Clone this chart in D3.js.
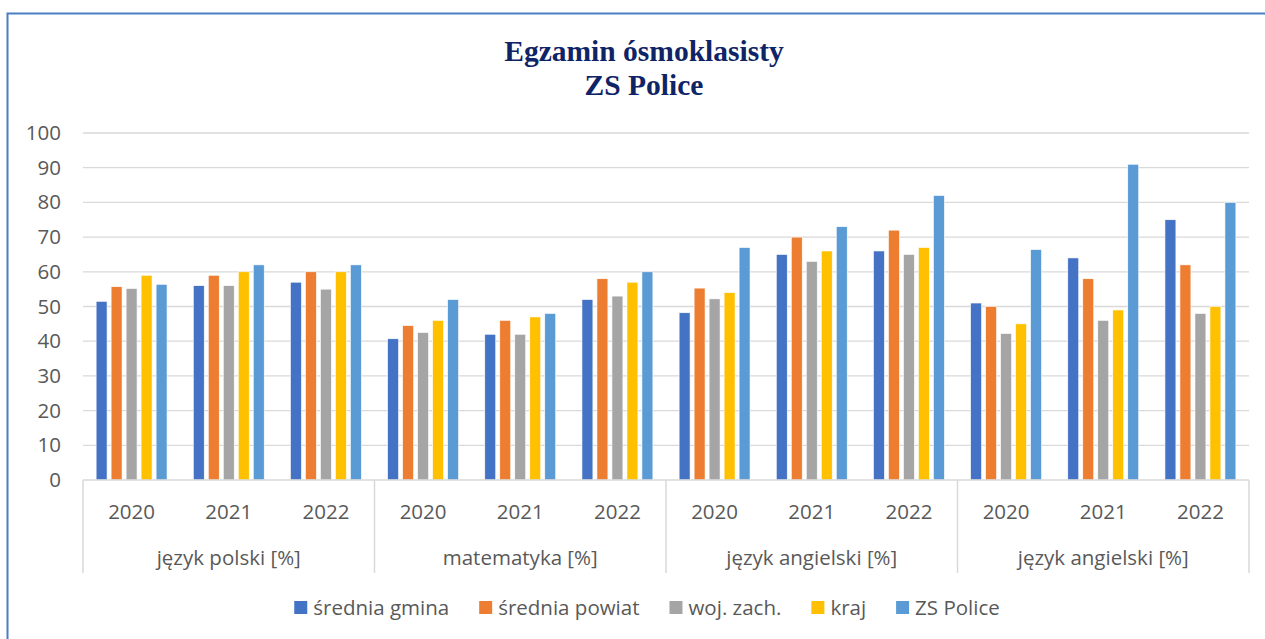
<!DOCTYPE html>
<html>
<head>
<meta charset="utf-8">
<script src="https://cdn.jsdelivr.net/npm/d3@7"></script>
<style>
  body { margin: 0; background: #fff; }
  svg { display: block; }
</style>
</head>
<body>
<div id="chart"></div>
<script>
// data
var years = ["2020", "2021", "2022"];
var subjects = ["język polski [%]", "matematyka [%]", "język angielski [%]", "język angielski [%]"];
var seriesNames = ["średnia gmina", "średnia powiat", "woj. zach.", "kraj", "ZS Police"];
var gmina  = [51.5, 56, 57, 40.7, 42, 52, 48.2, 65, 66, 51, 64, 75];
var powiat = [55.7, 59, 60, 44.5, 46, 58, 55.3, 70, 72, 50, 58, 62];
var woj    = [55.2, 56, 55, 42.5, 42, 53, 52.2, 63, 65, 42.2, 46, 48];
var kraj   = [59, 60, 60, 46, 47, 57, 54, 66, 67, 45, 49, 50];
var zsPolice = [56.4, 62, 62, 52, 48, 60, 67, 73, 82, 66.4, 91, 80];
var yTicks = [0, 10, 20, 30, 40, 50, 60, 70, 80, 90, 100];
var colors = ["#4472c4", "#ed7d31", "#a5a5a5", "#ffc000", "#5b9bd5"];

var svgWidth = 1265;
var svgHeight = 639;
var margin = { top: 133, right: 16, bottom: 159, left: 83 };
var width = 1249 - margin.left;
var height = 480 - margin.top;
var labelFont = "'Open Sans', sans-serif";
var labelSize = "20.5px";

var svg = d3.select("#chart")
  .append("svg")
  .attr("width", svgWidth)
  .attr("height", svgHeight);

// frame
svg.append("path")
  .attr("d", "M7.5,639 L7.5,13.5 L1265,13.5")
  .attr("fill", "none")
  .attr("stroke", "#4a7fc4")
  .attr("stroke-width", 2);

// title
var title = svg.append("text")
  .attr("text-anchor", "middle")
  .style("font-family", "'Liberation Serif', 'Times New Roman', serif")
  .style("font-weight", "bold")
  .style("font-size", "29.5px")
  .attr("fill", "#0f2466");
title.append("tspan").attr("x", 644).attr("y", 61).text("Egzamin ósmoklasisty");
title.append("tspan").attr("x", 644).attr("y", 95).text("ZS Police");

var chartGroup = svg.append("g")
  .attr("transform", `translate(${margin.left}, ${margin.top})`);

// build rows for each bar group
var allSeries = [gmina, powiat, woj, kraj, zsPolice];
var groups = [];
subjects.forEach(function(s, si) {
  years.forEach(function(y, yi) {
    groups.push({ key: si + "-" + y, subject: s, year: y, idx: si * 3 + yi });
  });
});

var x0 = d3.scaleBand()
  .domain(groups.map(d => d.key))
  .range([0, width])
  .paddingInner(0.27)
  .paddingOuter(0.135);

var x1 = d3.scaleBand()
  .domain(d3.range(seriesNames.length))
  .range([0, x0.bandwidth()])
  .paddingInner(0.27);

var yScale = d3.scaleLinear()
  .domain([0, 100])
  .range([height, 0]);

// gridlines
chartGroup.append("g")
  .selectAll("line")
  .data(yTicks.slice(1))
  .enter()
  .append("line")
  .attr("x1", 0)
  .attr("x2", width)
  .attr("y1", d => yScale(d))
  .attr("y2", d => yScale(d))
  .attr("stroke", "#d9d9d9")
  .attr("stroke-width", 1.3);

// y axis labels
var leftAxis = d3.axisLeft(yScale).tickValues(yTicks).tickSize(0).tickPadding(22);
var yAxisG = chartGroup.append("g").call(leftAxis);
yAxisG.select(".domain").remove();
yAxisG.selectAll("text")
  .style("font-family", labelFont)
  .style("font-size", labelSize)
  .attr("fill", "#595959");

// bars
var groupG = chartGroup.selectAll(".grp")
  .data(groups)
  .enter()
  .append("g")
  .attr("class", "grp")
  .attr("transform", d => `translate(${x0(d.key)}, 0)`);

groupG.selectAll("rect")
  .data(d => allSeries.map((vals, i) => ({ i: i, v: vals[d.idx] })))
  .enter()
  .append("rect")
  .attr("x", d => x1(d.i))
  .attr("width", x1.bandwidth())
  .attr("y", d => yScale(d.v))
  .attr("height", d => height - yScale(d.v))
  .attr("fill", d => colors[d.i])
  .attr("stroke", "#fff")
  .attr("stroke-width", 0.6);

// category axis
var axisG = chartGroup.append("g").attr("transform", `translate(0, ${height})`);
axisG.append("line")
  .attr("x1", 0).attr("x2", width)
  .attr("stroke", "#d9d9d9").attr("stroke-width", 1.5);

var subjW = width / subjects.length;
axisG.selectAll(".sep")
  .data(d3.range(subjects.length + 1))
  .enter()
  .append("line")
  .attr("x1", d => d * subjW)
  .attr("x2", d => d * subjW)
  .attr("y1", 0)
  .attr("y2", 93)
  .attr("stroke", "#d9d9d9")
  .attr("stroke-width", 1.5);

axisG.selectAll(".yr")
  .data(groups)
  .enter()
  .append("text")
  .attr("x", d => x0(d.key) + x0.bandwidth() / 2)
  .attr("y", 39)
  .attr("text-anchor", "middle")
  .style("font-family", labelFont)
  .style("font-size", labelSize)
  .attr("fill", "#595959")
  .text(d => d.year);

axisG.selectAll(".subj")
  .data(subjects)
  .enter()
  .append("text")
  .attr("x", (d, i) => (i + 0.5) * subjW)
  .attr("y", 85)
  .attr("text-anchor", "middle")
  .style("font-family", labelFont)
  .style("font-size", labelSize)
  .attr("fill", "#595959")
  .text(d => d);

// legend: laid out from text widths, centred under the chart
var legend = svg.append("g");
var items = legend.selectAll(".leg")
  .data(seriesNames)
  .enter()
  .append("g");
items.append("rect")
  .attr("x", 0).attr("y", -7)
  .attr("width", 13).attr("height", 13)
  .attr("fill", (d, i) => colors[i]);
items.append("text")
  .attr("x", 19)
  .attr("y", 7)
  .style("font-family", labelFont)
  .style("font-size", labelSize)
  .attr("fill", "#595959")
  .text(d => d);

var pos = 0;
var offsets = [];
items.each(function() {
  offsets.push(pos);
  pos += 19 + d3.select(this).select("text").node().getComputedTextLength() + 30;
});
var total = pos - 30;
items.attr("transform", (d, i) => `translate(${offsets[i]}, 0)`);
legend.attr("transform", `translate(${647 - total / 2}, 608)`);
</script>
</body>
</html>
